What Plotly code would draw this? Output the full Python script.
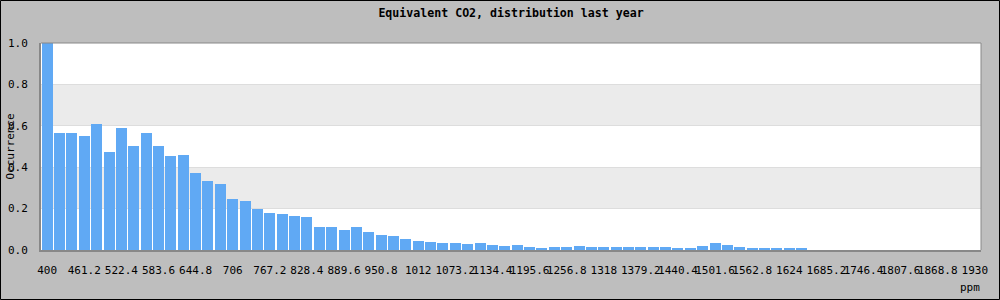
import plotly.graph_objects as go

# Category bins (ppm), 20.4 ppm wide, 400 .. 1930
bin_start = 400.0
bin_step = 20.4
n_bins = 76
categories = [round(bin_start + bin_step * i, 1) for i in range(n_bins)]

occurrence = [
    1.000, 0.566, 0.566, 0.552, 0.610, 0.474, 0.590, 0.503, 0.566, 0.503,
    0.455, 0.460, 0.373, 0.334, 0.319, 0.247, 0.237, 0.198, 0.179, 0.174,
    0.164, 0.159, 0.111, 0.111, 0.097, 0.111, 0.087, 0.072, 0.068, 0.053,
    0.043, 0.039, 0.034, 0.034, 0.029, 0.034, 0.024, 0.019, 0.024, 0.014,
    0.010, 0.014, 0.014, 0.019, 0.0145, 0.0145, 0.0145, 0.0145, 0.0145, 0.0145,
    0.0145, 0.0097, 0.0097, 0.019, 0.034, 0.024, 0.0145, 0.0097, 0.0097, 0.0097,
    0.005, 0.005, 0, 0, 0, 0, 0, 0, 0, 0,
    0, 0, 0, 0, 0, 0,
]

def fmt(v):
    s = ("%.1f" % v)
    return s[:-2] if s.endswith(".0") else s

tick_idx = list(range(0, n_bins, 3))
tick_text = [fmt(categories[i]) for i in tick_idx]
y_ticks = [0, 0.2, 0.4, 0.6, 0.8, 1.0]

FONT = "DejaVu Sans Mono"
W, H = 1000, 300
L, R, T, B = 41, 19, 43, 50
pw = W - L - R
ph = H - T - B

fig = go.Figure()
fig.add_trace(go.Bar(
    x=list(range(n_bins)), y=occurrence,
    marker=dict(color="#60a9f4", line=dict(width=0)),
    width=0.89, hoverinfo="skip",
))

shapes = []
# alternating bands
for y0, y1 in [(0.2, 0.4), (0.6, 0.8)]:
    shapes.append(dict(type="rect", xref="paper", yref="y", x0=0, x1=1, y0=y0, y1=y1,
                       fillcolor="#ebebeb", line=dict(width=0), layer="below"))
# outer border of image
shapes.append(dict(type="rect", xref="paper", yref="paper",
                   x0=-(L - 0.5) / pw, x1=(W - L - 0.5) / pw,
                   y0=-(B - 0.5) / ph, y1=(H - B - 0.5) / ph,
                   line=dict(color="black", width=1), layer="above"))
# thin frame top/right
shapes.append(dict(type="line", xref="paper", yref="paper", x0=0, x1=1, y0=1, y1=1,
                   line=dict(color="#888888", width=1)))
shapes.append(dict(type="line", xref="paper", yref="paper", x0=1, x1=1, y0=0, y1=1,
                   line=dict(color="#888888", width=1)))

fig.update_layout(
    width=W, height=H,
    margin=dict(l=L, r=R, t=T, b=B, pad=0, autoexpand=False),
    paper_bgcolor="#bebebe", plot_bgcolor="white",
    showlegend=False,
    bargap=0,
    font=dict(family=FONT, size=11, color="black"),
    title=dict(text="<b>Equivalent CO2, distribution last year</b>",
               x=0.5, xref="paper", xanchor="center", y=1 - 13 / H, yanchor="middle",
               font=dict(family=FONT, size=11.6, color="black")),
    xaxis=dict(range=[-0.5, n_bins - 0.5], tickmode="array", tickvals=tick_idx,
               ticktext=tick_text, showgrid=False, zeroline=False, automargin=False,
               showline=True, linecolor="#888888", linewidth=2, mirror=False,
               tickangle=0,
               ticks="", ticklabelstandoff=9, tickfont=dict(family=FONT, size=11)),
    yaxis=dict(range=[0, 1.0], tickmode="array", tickvals=y_ticks,
               ticktext=["%.1f" % v for v in y_ticks], automargin=False,
               showgrid=True, gridcolor="#dddddd", gridwidth=1, zeroline=False,
               showline=True, linecolor="#888888", linewidth=2,
               ticks="", ticklabelstandoff=9, tickfont=dict(family=FONT, size=11)),
    shapes=shapes,
    annotations=[
        dict(text="ppm", xref="paper", yref="paper",
             x=(970 - L) / pw, y=-(287 - T - ph) / ph, xanchor="center", yanchor="middle",
             showarrow=False, font=dict(family=FONT, size=11)),
        dict(text="Occurrence", xref="paper", yref="paper", textangle=-90,
             x=-(L - 10) / pw, y=0.5, xanchor="center", yanchor="middle",
             showarrow=False, font=dict(family=FONT, size=11)),
    ],
)

fig.write_html("out.html")
